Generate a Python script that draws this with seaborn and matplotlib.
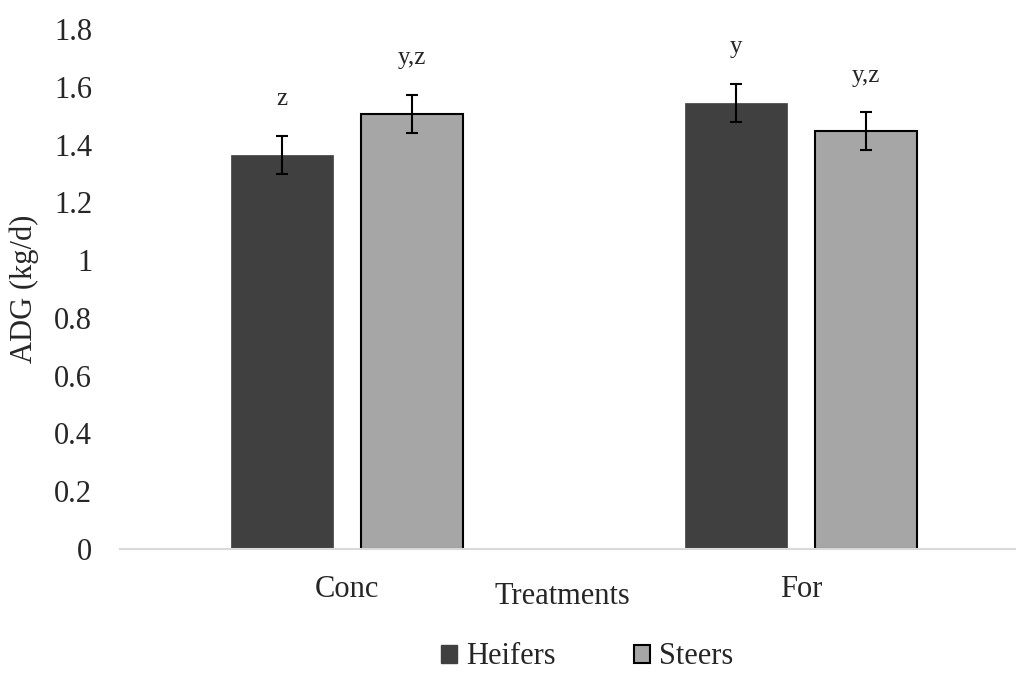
import pandas as pd
import numpy as np
import seaborn as sns
import matplotlib.pyplot as plt
from matplotlib.ticker import FuncFormatter
from matplotlib.patches import Patch

## data
treatments = ["Conc", "For"]
sexes = ["Heifers", "Steers"]
heifers_adg = [1.365, 1.545]
steers_adg = [1.507, 1.447]
heifers_se = [0.066, 0.066]
steers_se = [0.066, 0.066]
heifers_letters = ["z", "y"]
steers_letters = ["y,z", "y,z"]

df = pd.DataFrame({
    "Treatment": treatments * 2,
    "Sex": ["Heifers"] * 2 + ["Steers"] * 2,
    "ADG": heifers_adg + steers_adg,
    "SE": heifers_se + steers_se,
    "Letter": heifers_letters + steers_letters,
})

sns.set_style("white")
plt.rcParams["font.family"] = ["Liberation Serif", "DejaVu Serif"]

colors = {"Heifers": "#404040", "Steers": "#a6a6a6"}

fig = plt.figure(figsize=(10.16, 6.74), dpi=100)
ax = fig.add_axes([120 / 1016, 1 - 549 / 674, 896 / 1016, 520 / 674])

sns.barplot(data=df, x="Treatment", y="ADG", hue="Sex", order=treatments,
            hue_order=sexes, palette=colors, width=0.57, gap=0.21,
            errorbar=None, legend=False, ax=ax)

# edges: heifers keep their own colour, steers get a black outline
for bar, sex in zip(ax.patches, ["Heifers"] * 2 + ["Steers"] * 2):
    if sex == "Steers":
        bar.set_edgecolor("black")
        bar.set_linewidth(1.5)
    else:
        bar.set_edgecolor(colors["Heifers"])
        bar.set_linewidth(0.5)

# error bars + letters on top of each bar
for bar, (_, row) in zip(ax.patches, df.iterrows()):
    xc = bar.get_x() + bar.get_width() / 2
    ax.errorbar(xc, row["ADG"], yerr=row["SE"], fmt="none", ecolor="black",
                elinewidth=1.5, capsize=4.5, capthick=1.5)
    ax.text(xc, row["ADG"] + row["SE"] + 0.125, row["Letter"], ha="center",
            va="center", fontsize=18)

ax.set_xlim(-0.5, 1.4736)
ax.set_ylim(0, 1.8)
ax.set_yticks(np.arange(0, 1.81, 0.2))
ax.yaxis.set_major_formatter(FuncFormatter(lambda v, p: "%g" % round(v, 1)))
ax.tick_params(axis="both", length=0, labelsize=22)
ax.tick_params(axis="x", pad=19)
ax.tick_params(axis="y", pad=20)

for s in ["top", "right", "left"]:
    ax.spines[s].set_visible(False)
ax.spines["bottom"].set_color("#d9d9d9")
ax.spines["bottom"].set_linewidth(1.5)

ax.set_ylabel("ADG (kg/d)", fontsize=22)
ax.yaxis.set_label_coords(-0.09, 0.5)
ax.set_xlabel("Treatments", fontsize=22)
ax.xaxis.set_label_coords(0.494, -0.064)

handles = [Patch(facecolor=colors["Heifers"], edgecolor=colors["Heifers"]),
           Patch(facecolor=colors["Steers"], edgecolor="black", linewidth=1.5)]
fig.legend(handles, sexes, loc="center", ncol=2, frameon=False,
           bbox_to_anchor=(587 / 1016, 1 - 657 / 674), fontsize=22,
           handlelength=0.52, handleheight=0.52, handletextpad=0.3,
           columnspacing=2.55)

fig.savefig("out.png", dpi=100)
